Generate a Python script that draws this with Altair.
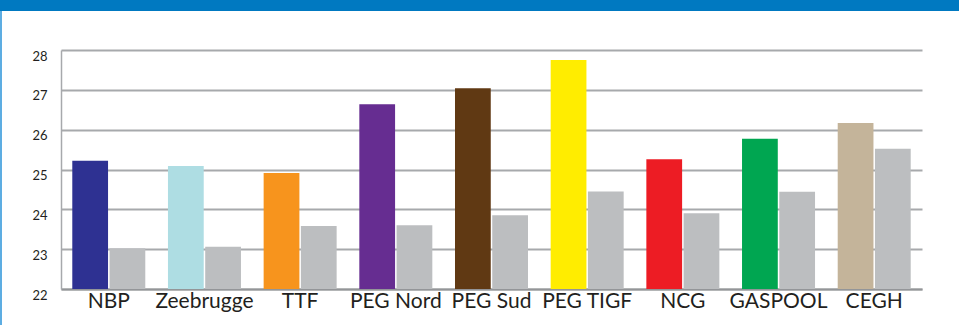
import altair as alt
import pandas as pd

categories = ["NBP", "Zeebrugge", "TTF", "PEG Nord", "PEG Sud", "PEG TIGF", "NCG", "GASPOOL", "CEGH"]
current = [25.22, 25.09, 24.91, 26.64, 27.04, 27.75, 25.26, 25.77, 26.17]
previous = [23.02, 23.06, 23.58, 23.60, 23.85, 24.45, 23.90, 24.44, 25.52]
bar_colors = ["#2E3192", "#AEDDE3", "#F7941D", "#662D91", "#603913", "#FFED00", "#ED1C24", "#00A651", "#C4B49A"]
prev_color = "#BCBEC0"
y_ticks = [22, 23, 24, 25, 26, 27, 28]

rows = []
for c, v in zip(categories, current):
    rows.append({"category": c, "series": "cur", "value": v, "ckey": c})
for c, v in zip(categories, previous):
    rows.append({"category": c, "series": "prev", "value": v, "ckey": "prev"})
df = pd.DataFrame(rows)

W, H = 861, 239
PL, PT, PR, PB = 61, 50, 37, 36

bars = alt.Chart(df).mark_bar().encode(
    x=alt.X("category:N", sort=categories,
            scale=alt.Scale(paddingInner=0.237, paddingOuter=0.118),
            axis=alt.Axis(title=None, labelAngle=0, labelFontSize=21, labelFont="Lato",
                          labelColor="#231F20", domain=True, domainColor="#939598", domainWidth=2,
                          ticks=False, labelPadding=1, labelBaseline="top")),
    xOffset=alt.XOffset("series:N", sort=["cur", "prev"], scale=alt.Scale(paddingInner=0.04)),
    y=alt.Y("value:Q", scale=alt.Scale(domain=[22, 28], zero=False, nice=False),
            axis=alt.Axis(values=y_ticks, title=None, grid=True, gridColor="#A7A9AC", gridWidth=2,
                          domain=True, domainColor="#A7A9AC", domainWidth=1.5, ticks=False,
                          labelPadding=14, labelBaseline="top", labelFontSize=13, labelFont="Lato",
                          labelColor="#231F20")),
    y2=alt.datum(22),
    color=alt.Color("ckey:N", scale=alt.Scale(domain=categories + ["prev"], range=bar_colors + [prev_color]),
                    legend=None),
)

deco = pd.DataFrame({"k": [0]})
header = alt.Chart(deco).mark_rect(color="#0079C1", clip=False).encode(
    x=alt.value(-PL), x2=alt.value(W + PR), y=alt.value(-PT), y2=alt.value(-PT + 11)
)
border = alt.Chart(deco).mark_rect(color="#5DADE2", clip=False).encode(
    x=alt.value(-PL), x2=alt.value(-PL + 2), y=alt.value(-PT + 11), y2=alt.value(H + PB)
)

chart = alt.layer(bars, header, border).properties(
    width=W, height=H,
    padding={"left": PL, "top": PT, "right": PR, "bottom": PB},
    autosize=alt.AutoSizeParams(type="none"),
    background="white",
).configure_view(stroke=None)

chart.save("out.html", embed_options={"renderer": "svg", "actions": False})
